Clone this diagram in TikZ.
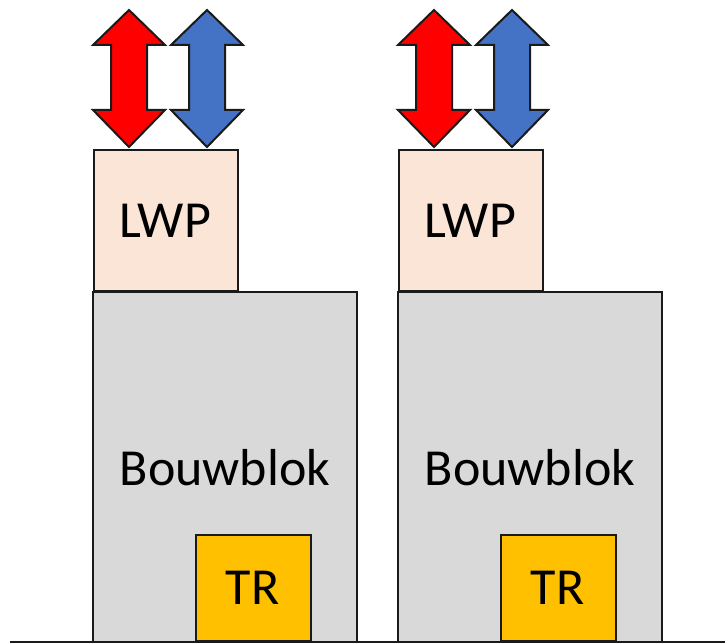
\documentclass[tikz,border=0pt]{standalone}
\usepackage{fontspec}
\setmainfont{Carlito}
\definecolor{heatred}{HTML}{FF0000}
\definecolor{coolblue}{HTML}{4472C4}
\definecolor{lwpfill}{HTML}{FBE5D6}
\definecolor{blockgray}{HTML}{D9D9D9}
\definecolor{trfill}{HTML}{FFC000}
\definecolor{edge}{HTML}{1A1A1A}
\tikzset{
  box/.style={draw=edge, line width=2pt, anchor=north west, inner sep=0pt,
              font=\fontsize{52}{60}\selectfont, text=black},
  lwpbox/.style={box, fill=lwpfill, minimum width=144pt, minimum height=141pt},
  blockbox/.style={box, fill=blockgray, minimum width=264pt, minimum height=350pt},
  trbox/.style={box, fill=trfill, minimum width=115pt, minimum height=106pt},
  flow/.style={draw=edge, line width=2pt, line join=miter},
}
% vertical double arrow centred at x = #1 (top tip y=10, bottom tip y=147)
\newcommand\vdoublearrow[2]{%
  \draw[flow, fill=#2] (#1,10) -- (#1+36,45) -- (#1+18,45) -- (#1+18,110)
    -- (#1+36,110) -- (#1,147) -- (#1-36,110) -- (#1-18,110) -- (#1-18,45)
    -- (#1-36,45) -- cycle;}
\begin{document}
\begin{tikzpicture}[x=1pt, y=-1pt]
  \useasboundingbox (0,0) rectangle (725,644);
  % building blocks with heat pump and transformer
  \foreach \dx/\n in {0/a, 305/b} {
    \begin{scope}[xshift=\dx pt]
      \node[blockbox] (block\n) at (92,291) {};
      \node at (225,468) (blocktext\n) {\fontsize{52}{60}\selectfont Bouwblok};
      \node[trbox] (tr\n) at (195,534) {};
      \node at (252.5,588) (trtext\n) {\fontsize{52}{60}\selectfont TR};
      \node[lwpbox] (lwp\n) at (93,149) {};
      \node at (165,221) (lwptext\n) {\fontsize{52}{60}\selectfont LWP};
      \vdoublearrow{129}{heatred}
      \vdoublearrow{207}{coolblue}
    \end{scope}
  }
  % ground line
  \coordinate (groundL) at (10,642);
  \coordinate (groundR) at (725,642);
  \draw[draw=edge, line width=2.5pt] (groundL) -- (groundR);
\end{tikzpicture}
\end{document}
